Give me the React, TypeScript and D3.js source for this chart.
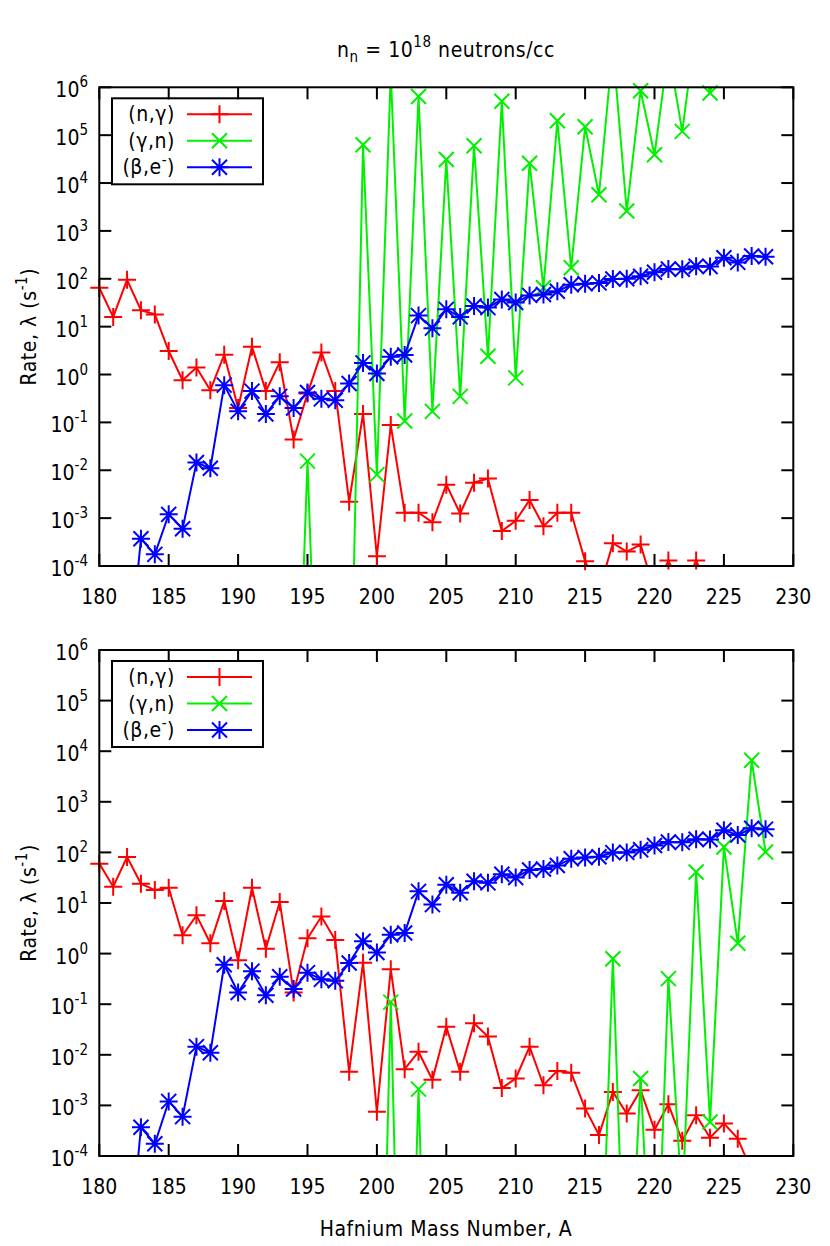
import React from 'react';
import * as d3 from 'd3';

// ---------- data ----------
const massNumbers = [
  180, 181, 182, 183, 184, 185, 186, 187, 188, 189,
  190, 191, 192, 193, 194, 195, 196, 197, 198, 199,
  200, 201, 202, 203, 204, 205, 206, 207, 208, 209,
  210, 211, 212, 213, 214, 215, 216, 217, 218, 219,
  220, 221, 222, 223, 224, 225, 226, 227, 228,
];

// top panel: (n,gamma)
const topNGamma = [
  65, 16, 95, 22, 18, 3.1, 0.76, 1.4, 0.47, 2.6,
  0.2, 3.8, 0.45, 1.8, 0.044, 0.4, 2.9, 0.45, 0.0022, 0.15,
  1.6e-4, 0.088, 1.3e-3, 1.3e-3, 8.2e-4, 5.0e-3, 1.25e-3, 5.5e-3, 6.7e-3, 5.4e-4,
  8.8e-4, 2.4e-3, 6.8e-4, 1.3e-3, 1.3e-3, 1.26e-4, 3e-5, 3e-4, 2e-4, 2.8e-4,
  3e-5, 1.3e-4, 3e-5, 1.3e-4, 3e-5, 2e-5, 2e-5, 1e-5, 1e-5,
];

// top panel: (gamma,n)
const topGammaN = [
  null, null, null, null, null, null, null, null, null, null,
  null, null, null, null, 1e-10, 0.0155, 1e-10, 1e-10, 2e-9, 6.3e4,
  8.1e-3, 2e6, 0.107, 6.4e5, 0.17, 3.1e4, 0.35, 6e4, 2.4, 5.1e5,
  0.85, 2.6e4, 65, 2e5, 170, 1.5e5, 5.7e3, 7e6, 2.6e3, 8.5e5,
  3.9e4, 6e6, 1.2e5, 2e7, 7.6e5, 2e7, 5e7, 5e7, 5e7,
];

// both panels: (beta,e-)
const betaDecay = [
  null, null, 4e-7, 3.7e-4, 1.75e-4, 1.2e-3, 6e-4, 0.0145, 0.011, 0.6,
  0.17, 0.45, 0.15, 0.35, 0.2, 0.42, 0.31, 0.29, 0.65, 1.75,
  1.05, 2.35, 2.55, 17, 9.3, 23, 16, 27, 25, 37,
  32, 45, 47, 55, 75, 79, 82, 99, 100, 113,
  137, 160, 158, 182, 180, 275, 220, 300, 288,
];

// bottom panel: (n,gamma)
const bottomNGamma = [
  60, 21, 81, 24, 18, 20, 2.3, 5.7, 1.6, 11,
  0.74, 20, 1.25, 10.5, 0.17, 2.0, 5.4, 1.85, 4.6e-3, 0.66,
  7.5e-4, 0.49, 5.2e-3, 0.0115, 3.2e-3, 0.036, 4.6e-3, 0.042, 0.023, 2.2e-3,
  3.4e-3, 0.0145, 2.5e-3, 4.8e-3, 4.4e-3, 8.7e-4, 2.6e-4, 1.85e-3, 6.9e-4, 2e-3,
  3.3e-4, 1.05e-3, 2e-4, 6.4e-4, 2.3e-4, 4.4e-4, 2.2e-4, 5e-5, 2e-5,
];

// bottom panel: (gamma,n)
const bottomGammaN = [
  null, null, null, null, null, null, null, null, null, null,
  null, null, null, null, null, null, null, null, null, null,
  1e-12, 0.11, 1e-12, 2.1e-3, 1e-12, 1e-10, 1e-10, 1e-10, 1e-10, 1e-10,
  1e-10, 1e-10, 1e-10, 1e-10, 1e-10, 1e-10, 1e-8, 0.79, 1e-8, 3.4e-3,
  1e-8, 0.32, 1e-5, 41, 4.7e-4, 128, 1.6, 6.6e3, 102,
];

const yTickExponents = [-4, -3, -2, -1, 0, 1, 2, 3, 4, 5, 6];
const xTickValues = [180, 185, 190, 195, 200, 205, 210, 215, 220, 225, 230];
const seriesLabels = ['(n,γ)', '(γ,n)', '(β,e'];

// ---------- layout ----------
const W = 830;
const H = 1246;
const LEFT = 99.3;
const RIGHT = 793.3;
const FONT = "'DejaVu Sans', Verdana, sans-serif";
const RED = '#ff0000';
const GREEN = '#00f000';
const BLUE = '#0000ff';
const TXT = { fontStretch: 'condensed' as const };
const LTXT = { fontStretch: 'condensed' as const, letterSpacing: '0.55px' };

type Pt = { a: number; v: number | null };

function Marker({ kind, x, y, color }: { kind: string; x: number; y: number; color: string }) {
  const s = 9;
  const d = 7.5;
  let p = '';
  if (kind === 'plus') p = `M${x - s},${y}H${x + s}M${x},${y - s}V${y + s}`;
  else if (kind === 'cross') p = `M${x - d},${y - d}L${x + d},${y + d}M${x - d},${y + d}L${x + d},${y - d}`;
  else
    p = `M${x - s},${y}H${x + s}M${x},${y - s}V${y + s}M${x - d},${y - d}L${x + d},${y + d}M${x - d},${y + d}L${x + d},${y - d}`;
  return <path d={p} stroke={color} strokeWidth={2} fill="none" />;
}

function Panel({ id, top, bottom, ng, gn }: { id: string; top: number; bottom: number; ng: (number | null)[]; gn: (number | null)[] }) {
  const x = d3.scaleLinear().domain([180, 230]).range([LEFT, RIGHT]);
  const y = d3.scaleLog().domain([1e-4, 1e6]).range([bottom, top]);
  const line = d3
    .line<Pt>()
    .defined((d) => d.v != null && (d.v as number) > 0)
    .x((d) => x(d.a))
    .y((d) => y(d.v as number));

  const series = [
    { vals: ng, color: RED, kind: 'plus' },
    { vals: gn, color: GREEN, kind: 'cross' },
    { vals: betaDecay, color: BLUE, kind: 'star' },
  ];
  const clipId = `clip-${id}`;
  const midY = (top + bottom) / 2;

  return (
    <g>
      <defs>
        <clipPath id={clipId}>
          <rect x={LEFT} y={top} width={RIGHT - LEFT} height={bottom - top} />
        </clipPath>
      </defs>

      {/* ticks */}
      {yTickExponents.map((e) => {
        const yy = y(Math.pow(10, e));
        return (
          <g key={'yt' + e}>
            <line x1={LEFT} x2={LEFT + 12} y1={yy} y2={yy} stroke="#000" strokeWidth={2} />
            <line x1={RIGHT - 12} x2={RIGHT} y1={yy} y2={yy} stroke="#000" strokeWidth={2} />
            <text x={88} y={yy + 10} textAnchor="end" fontFamily={FONT} fontSize={21} style={TXT}>
              10<tspan dy={-10} fontSize={15}>{String(e)}</tspan>
            </text>
          </g>
        );
      })}
      {xTickValues.map((t) => {
        const xx = x(t);
        return (
          <g key={'xt' + t}>
            <line x1={xx} x2={xx} y1={bottom} y2={bottom - 12} stroke="#000" strokeWidth={2} />
            <line x1={xx} x2={xx} y1={top} y2={top + 12} stroke="#000" strokeWidth={2} />
            <text x={xx} y={bottom + 38} textAnchor="middle" fontFamily={FONT} fontSize={21} style={TXT}>
              {t}
            </text>
          </g>
        );
      })}

      {/* y label */}
      <text
        transform={`translate(36,${midY}) rotate(-90)`}
        textAnchor="middle"
        fontFamily={FONT}
        fontSize={21}
        style={LTXT}
      >
        Rate, λ (s<tspan dy={-9} fontSize={15}>-1</tspan>
        <tspan dy={9}>)</tspan>
      </text>

      {/* data */}
      {series.map((s, si) => {
        const pts: Pt[] = massNumbers.map((a, i) => ({ a, v: s.vals[i] }));
        return (
          <g key={'s' + si}>
            <path d={line(pts) || ''} stroke={s.color} strokeWidth={2} fill="none" clipPath={`url(#${clipId})`} />
            {pts
              .filter((p) => p.v != null && (p.v as number) >= 1e-4 && (p.v as number) <= 1e6)
              .map((p, j) => (
                <Marker key={j} kind={s.kind} x={x(p.a)} y={y(p.v as number)} color={s.color} />
              ))}
          </g>
        );
      })}

      {/* legend */}
      <rect x={112} y={top + 11} width={151} height={86} fill="none" stroke="#000" strokeWidth={2} />
      {series.map((s, si) => {
        const ly = top + 27 + si * 26.5;
        return (
          <g key={'l' + si}>
            <text x={175} y={ly + 7} textAnchor="end" fontFamily={FONT} fontSize={21} style={LTXT}>
              {seriesLabels[si]}
              {si === 2 ? (
                <>
                  <tspan dy={-9} fontSize={15}>-</tspan>
                  <tspan dy={9}>)</tspan>
                </>
              ) : null}
            </text>
            <line x1={187} x2={252} y1={ly} y2={ly} stroke={s.color} strokeWidth={2} />
            <Marker kind={s.kind} x={219.5} y={ly} color={s.color} />
          </g>
        );
      })}

      {/* border */}
      <rect x={LEFT} y={top} width={RIGHT - LEFT} height={bottom - top} fill="none" stroke="#000" strokeWidth={2} />
    </g>
  );
}

export default function App() {
  return (
    <svg width={W} height={H} viewBox={`0 0 ${W} ${H}`} style={{ position: 'absolute', left: 0, top: 0, background: '#fff' }}>
      <rect x={0} y={0} width={W} height={H} fill="#fff" />
      <text x={446} y={57} textAnchor="middle" fontFamily={FONT} fontSize={21} style={LTXT}>
        n<tspan dy={5} fontSize={15}>n</tspan>
        <tspan dy={-5}> = 10</tspan>
        <tspan dy={-10} fontSize={15}>18</tspan>
        <tspan dy={10}> neutrons/cc</tspan>
      </text>
      <Panel id="top" top={87.3} bottom={566} ng={topNGamma} gn={topGammaN} />
      <Panel id="bot" top={650} bottom={1156} ng={bottomNGamma} gn={bottomGammaN} />
      <text x={446} y={1236} textAnchor="middle" fontFamily={FONT} fontSize={21} style={LTXT}>
        Hafnium Mass Number, A
      </text>
    </svg>
  );
}
